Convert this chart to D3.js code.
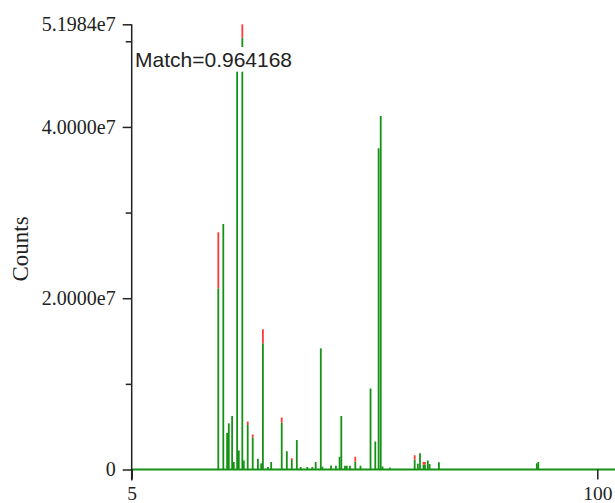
<!DOCTYPE html>
<html>
<head>
<meta charset="utf-8">
<script src="https://cdn.jsdelivr.net/npm/d3@7"></script>
<style>
  html, body { margin: 0; padding: 0; background: #fff; }
  svg { display: block; }
</style>
</head>
<body>
<svg id="chart" width="615" height="503"></svg>
<script>
// Peak positions (m/z) and intensities for the library spectrum (red)
// and the measured spectrum (green).
const mz = [
  22.67, 23.69, 24.47, 24.81, 25.49, 25.83, 26.51, 26.85, 27.57, 27.87,
  28.67, 29.69, 30.75, 31.42, 31.77, 32.79, 33.46, 35.61, 36.65, 37.67,
  38.69, 39.48, 40.83, 41.85, 42.54, 43.58, 43.91, 45.67, 46.67, 47.42,
  47.77, 48.52, 48.87, 49.54, 50.62, 51.68, 53.73, 54.70, 55.38, 55.81,
  56.17, 57.67, 62.74, 63.38, 63.82, 64.54, 64.84, 65.42, 65.78, 67.68,
  87.66, 87.96
];
const libraryCounts = [
  27700000, 28670000, 4260000, 5390000, 6250000, 880000, 47500000, 2220000, 51984000, 1050000,
  5600000, 4090000, 1250000, 720000, 16370000, 290000, 880000, 6070000, 2130000, 1310000,
  3440000, 290000, 290000, 290000, 880000, 14150000, 330000, 470000, 440000, 1490000,
  6250000, 440000, 440000, 440000, 1490000, 440000, 9460000, 3270000, 37510000, 41280000,
  350000, 230000, 1660000, 680000, 1890000, 880000, 880000, 1050000, 640000, 850000,
  720000, 880000
];
const sampleCounts = [
  21160000, 28670000, 4260000, 5390000, 6250000, 880000, 47500000, 2220000, 50420000, 1050000,
  5200000, 3740000, 1250000, 720000, 14740000, 290000, 880000, 5460000, 2130000, 1110000,
  3440000, 290000, 290000, 290000, 880000, 14150000, 330000, 470000, 440000, 1490000,
  6250000, 440000, 440000, 440000, 910000, 440000, 9460000, 3270000, 37510000, 41280000,
  350000, 230000, 1140000, 680000, 1890000, 580000, 580000, 1050000, 640000, 850000,
  720000, 880000
];
const xTicks = [5, 100];
const yMajorTicks = [0, 20000000, 40000000, 51984000];
const yMinorTicks = [10000000, 30000000, 50000000];
const matchScore = "Match=0.964168";
const yTitle = "Counts";

const peaks = mz.map((m, i) => ({ mz: m, lib: libraryCounts[i], sample: sampleCounts[i] }));

const svg = d3.select("#chart");
const W = 615;

const x = d3.scaleLinear().domain([5, 100]).range([131.7, 597.3]);
const y = d3.scaleLinear().domain([0, d3.max(libraryCounts)]).range([469.5, 24.3]);

const serif = "'Liberation Serif', 'Times New Roman', serif";
const GREEN = "#159215";
const RED = "#ff3838";

// Green baseline along the zero line
svg.append("line")
  .attr("x1", x(5)).attr("x2", W)
  .attr("y1", y(0)).attr("y2", y(0))
  .attr("stroke", GREEN).attr("stroke-width", 2);

// Measured peaks
svg.append("g").selectAll("line").data(peaks).join("line")
  .attr("x1", d => x(d.mz)).attr("x2", d => x(d.mz))
  .attr("y1", y(0)).attr("y2", d => y(d.sample))
  .attr("stroke", GREEN).attr("stroke-width", 1.8);

// Library intensity in excess of the measured one, stacked on top
svg.append("g").selectAll("line").data(peaks.filter(d => d.lib > d.sample)).join("line")
  .attr("x1", d => x(d.mz)).attr("x2", d => x(d.mz))
  .attr("y1", d => y(d.sample)).attr("y2", d => y(d.lib))
  .attr("stroke", RED).attr("stroke-width", 1.8);

// Y axis
const fmt = v => v === 0 ? "0" : v.toExponential(4).replace("+", "");
const yAxis = svg.append("g")
  .attr("transform", `translate(${x(5)},0)`)
  .call(d3.axisLeft(y).tickValues(yMajorTicks).tickFormat(fmt).tickSize(9).tickSizeOuter(0).tickPadding(7));
yAxis.select(".domain").remove();
yAxis.selectAll("line").attr("stroke", "#222").attr("stroke-width", 1.5);
yAxis.selectAll("text").attr("font-family", serif).attr("font-size", 20).attr("fill", "#222");

svg.append("g")
  .attr("transform", `translate(${x(5)},0)`)
  .call(d3.axisLeft(y).tickValues(yMinorTicks).tickFormat("").tickSize(6).tickSizeOuter(0))
  .call(g => g.select(".domain").remove())
  .selectAll("line").attr("stroke", "#222").attr("stroke-width", 1.5);

// Vertical axis line, running slightly below the baseline
svg.append("line")
  .attr("x1", x(5)).attr("x2", x(5))
  .attr("y1", y(d3.max(libraryCounts))).attr("y2", y(0) + 11)
  .attr("stroke", "#222").attr("stroke-width", 1.5);

// X axis ticks and labels
const xAxis = svg.append("g")
  .attr("transform", `translate(0,${y(0)})`)
  .call(d3.axisBottom(x).tickValues(xTicks).tickFormat(d3.format("d")).tickSize(10).tickSizeOuter(0).tickPadding(7));
xAxis.select(".domain").remove();
xAxis.selectAll("line").attr("stroke", "#222").attr("stroke-width", 1.5);
xAxis.selectAll("text").attr("font-family", serif).attr("font-size", 19.5).attr("fill", "#222");

// Axis title
svg.append("text")
  .attr("transform", "translate(28,249) rotate(-90)")
  .attr("text-anchor", "middle")
  .attr("font-family", serif).attr("font-size", 23).attr("fill", "#222")
  .text(yTitle);

// Match score annotation on a white label box
const note = svg.append("g");
const noteText = note.append("text")
  .attr("x", 135).attr("y", 66.5)
  .attr("font-family", "'Liberation Sans', Arial, sans-serif").attr("font-size", 21)
  .attr("fill", "#222")
  .text(matchScore);
const bb = noteText.node().getBBox();
note.insert("rect", "text")
  .attr("x", bb.x - 1).attr("y", 47)
  .attr("width", bb.width + 2).attr("height", 24.7)
  .attr("fill", "#fff");
</script>
</body>
</html>
